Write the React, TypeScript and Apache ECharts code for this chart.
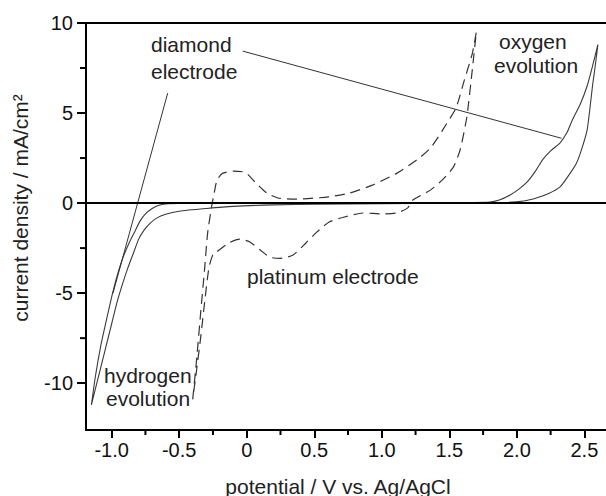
import React, { useEffect, useRef } from "react";
import * as echarts from "echarts";

// Diamond electrode CV loop (potential V, current mA/cm2)
const diamondX = [
  -1.15, -1.12, -1.08, -1.03, -0.99, -0.95, -0.91, -0.87, -0.83, -0.79, -0.75, -0.7, -0.65, -0.58, -0.4, 0.5, 1.5, 1.8,
  1.87, 1.95, 2.02, 2.08, 2.14, 2.19, 2.25, 2.32, 2.37, 2.41, 2.47, 2.52, 2.56, 2.6,
  2.58, 2.56, 2.54, 2.52, 2.48, 2.44, 2.38, 2.32, 2.24, 2.15, 2.05, 1.9, 1.5, 1.0, 0.5, 0.2, -0.1, -0.3, -0.5,
  -0.6, -0.67, -0.72, -0.76, -0.8, -0.84, -0.88, -0.92, -0.96, -1.0, -1.05, -1.1, -1.15,
];
const diamondY = [
  -11.2, -9.6, -7.9, -6.2, -4.9, -3.8, -2.9, -2.2, -1.6, -1.0, -0.6, -0.3, -0.12, -0.04, -0.01, 0.0, 0.02, 0.06,
  0.17, 0.45, 0.8, 1.2, 1.8, 2.4, 2.9, 3.35, 3.9, 4.6, 5.5, 6.5, 7.6, 8.8,
  7.6, 6.5, 5.2, 4.05, 3.0, 2.2, 1.5, 0.9, 0.55, 0.3, 0.12, 0.03, 0.0, -0.03, -0.06, -0.1, -0.18, -0.3, -0.45,
  -0.62, -0.85, -1.15, -1.5, -2.0, -2.8, -3.6, -4.5, -5.5, -6.7, -8.2, -9.7, -11.2,
];

// Platinum electrode CV loop
const platinumX = [
  -0.4, -0.37, -0.34, -0.31, -0.29, -0.26, -0.24, -0.22, -0.18, -0.1, -0.01, 0.07, 0.15, 0.24, 0.37, 0.61, 0.76,
  0.93, 1.11, 1.26, 1.36, 1.45, 1.55, 1.61, 1.67, 1.7,
  1.67, 1.63, 1.58, 1.53, 1.45, 1.36, 1.23, 1.19, 1.11, 1.01, 0.86, 0.71, 0.61, 0.52, 0.44, 0.34, 0.24, 0.17, 0.1,
  0.02, -0.05, -0.13, -0.22, -0.25, -0.28, -0.31, -0.34, -0.37, -0.4,
];
const platinumY = [
  -10.9, -8.6, -6.0, -3.5, -1.7, -0.2, 0.6, 1.28, 1.65, 1.78, 1.7, 1.1, 0.55, 0.27, 0.22, 0.35, 0.55,
  1.0, 1.65, 2.4, 3.05, 4.05, 5.3, 6.8, 8.3, 9.5,
  7.4, 4.8, 2.95, 2.0, 1.3, 0.72, 0.17, -0.28, -0.55, -0.6, -0.55, -0.8, -1.05, -1.6, -2.2, -2.9, -3.07, -3.0, -2.6,
  -2.15, -2.0, -2.2, -2.7, -2.85, -3.6, -5.4, -7.4, -9.2, -10.9,
];

// Pointer lines of the "diamond electrode" label
const pointerOxygenX = [-0.03, 2.33];
const pointerOxygenY = [8.44, 3.6];
const pointerHydrogenX = [-0.585, -0.99];
const pointerHydrogenY = [6.11, -5.0];

const xMajorTicks = [-1.0, -0.5, 0, 0.5, 1.0, 1.5, 2.0, 2.5];
const xMinorTicks = [-0.75, -0.25, 0.25, 0.75, 1.25, 1.75, 2.25];
const yMajorTicks = [-10, -5, 0, 5, 10];
const yMinorTicks = [-7.5, -2.5, 2.5, 7.5];

const X_MIN = -1.19;
const X_MAX = 2.66;
const Y_MIN = -12.6;
const Y_MAX = 10;

const pairs = (xs: number[], ys: number[]) => xs.map((x, i) => [x, ys[i]]);

const FONT = "'Liberation Sans', Arial, sans-serif";

export default function App() {
  const ref = useRef<HTMLDivElement>(null);
  useEffect(() => {
    if (!ref.current) return;
    const chart = echarts.init(ref.current, null, { renderer: "svg" });
    const axisLine = { show: true, onZero: false, lineStyle: { color: "#000", width: 2 } };
    const txt = (text: string, x: number, y: number) => ({
      type: "text",
      x,
      y,
      style: { text, fontSize: 21, fontFamily: FONT, fill: "#222", textVerticalAlign: "middle" },
    });
    chart.setOption({
      animation: false,
      backgroundColor: "#fff",
      grid: { left: 86, right: 0, top: 23, bottom: 66 },
      xAxis: [
        {
          type: "value",
          min: X_MIN,
          max: X_MAX,
          splitLine: { show: false },
          position: "bottom",
          axisLine,
          axisTick: { show: true, length: 8, customValues: xMajorTicks, lineStyle: { color: "#000", width: 2 } },
          axisLabel: {
            show: true,
            customValues: xMajorTicks,
            margin: 10,
            fontSize: 20,
            fontFamily: FONT,
            color: "#111",
            formatter: (v: number) => (v === 0 ? "0" : v.toFixed(1)),
          },
        },
        {
          type: "value",
          min: X_MIN,
          max: X_MAX,
          splitLine: { show: false },
          position: "top",
          axisLine,
          axisTick: { show: false },
          axisLabel: { show: false },
        },
      ],
      yAxis: [
        {
          type: "value",
          min: Y_MIN,
          max: Y_MAX,
          splitLine: { show: false },
          position: "left",
          axisLine,
          axisTick: { show: true, length: 9, customValues: yMajorTicks, lineStyle: { color: "#000", width: 2 } },
          axisLabel: {
            show: true,
            customValues: yMajorTicks,
            margin: 13,
            fontSize: 20,
            fontFamily: FONT,
            color: "#111",
            formatter: (v: number) => String(v),
          },
        },
      ],
      series: [
        {
          type: "line",
          name: "diamond",
          data: pairs(diamondX, diamondY),
          symbol: "none",
          smooth: 0.2,
          lineStyle: { color: "#3a3a3a", width: 1.1 },
          markLine: {
            silent: true,
            symbol: "none",
            label: { show: false },
            lineStyle: { color: "#000", width: 2, type: "solid" },
            data: [{ yAxis: 0 }],
          },
        },
        {
          type: "line",
          name: "platinum",
          data: pairs(platinumX, platinumY),
          symbol: "none",
          smooth: 0.2,
          lineStyle: { color: "#333", width: 1.2, type: [10, 6] },
        },
        {
          type: "line",
          name: "pointer1",
          data: pairs(pointerOxygenX, pointerOxygenY),
          symbol: "none",
          lineStyle: { color: "#333", width: 1 },
        },
        {
          type: "line",
          name: "pointer2",
          data: pairs(pointerHydrogenX, pointerHydrogenY),
          symbol: "none",
          lineStyle: { color: "#333", width: 1 },
        },
        {
          type: "custom",
          name: "xMinorTicks",
          clip: false,
          silent: true,
          data: xMinorTicks.map((v) => [v, Y_MIN]),
          renderItem: (_p: any, api: any) => {
            const c = api.coord([api.value(0), Y_MIN]);
            return {
              type: "line",
              shape: { x1: c[0], y1: c[1], x2: c[0], y2: c[1] + 5 },
              style: { stroke: "#000", lineWidth: 2 },
            };
          },
        },
        {
          type: "custom",
          name: "yMinorTicks",
          clip: false,
          silent: true,
          data: yMinorTicks.map((v) => [X_MIN, v]),
          renderItem: (_p: any, api: any) => {
            const c = api.coord([X_MIN, api.value(1)]);
            return {
              type: "line",
              shape: { x1: c[0] - 6, y1: c[1], x2: c[0], y2: c[1] },
              style: { stroke: "#000", lineWidth: 2 },
            };
          },
        },
      ],
      graphic: [
        txt("diamond", 151, 44),
        txt("electrode", 151, 71),
        txt("oxygen", 499, 41),
        txt("evolution", 494, 65),
        txt("platinum electrode", 247, 276),
        txt("hydrogen", 104, 375),
        txt("evolution", 106, 398),
        {
          type: "text",
          x: 338,
          y: 486,
          style: { text: "potential / V vs. Ag/AgCl", fontSize: 21, fontFamily: FONT, fill: "#222", textAlign: "center", textVerticalAlign: "middle" },
        },
        {
          type: "text",
          x: 20,
          y: 208,
          rotation: Math.PI / 2,
          style: { text: "current density / mA/cm²", fontSize: 21, fontFamily: FONT, fill: "#222", textAlign: "center", textVerticalAlign: "middle" },
        },
      ],
    });
    return () => chart.dispose();
  }, []);
  return <div ref={ref} style={{ position: "absolute", left: 0, top: 0, width: 606, height: 496 }} />;
}
